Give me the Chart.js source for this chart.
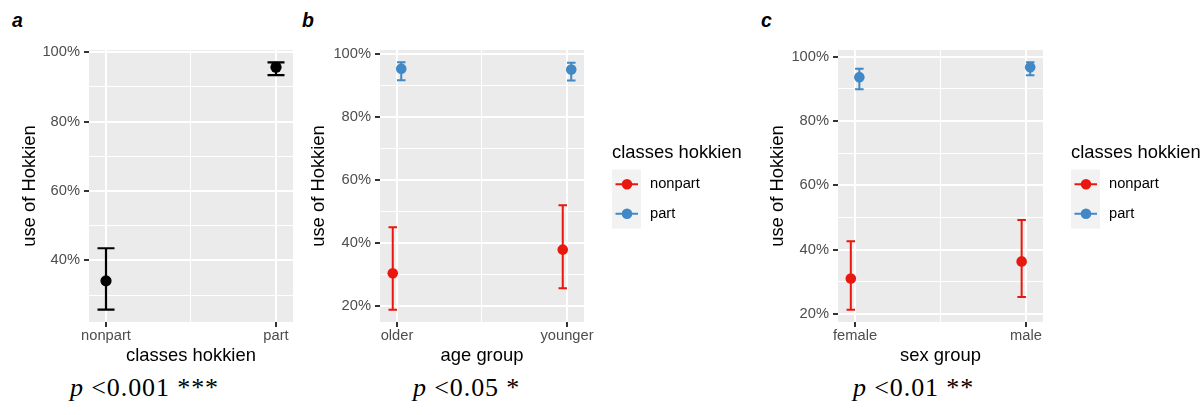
<!DOCTYPE html>
<html>
<head>
<meta charset="utf-8">
<script src="https://cdn.jsdelivr.net/npm/chart.js@4/dist/chart.umd.min.js"></script>
<style>
  html, body { margin: 0; padding: 0; background: #fff; }
  body { width: 1204px; height: 415px; position: relative; overflow: hidden; }
  canvas { position: absolute; top: 0; }
  .tag { position: absolute; top: 10px; font: italic bold 19.5px "Liberation Sans", Arial, sans-serif; line-height: 20px; color: #000; }
  .pval { position: absolute; top: 375px; font: 26px "Liberation Serif", "Times New Roman", serif; letter-spacing: 0.9px; line-height: 26px; color: #000; white-space: pre; }
  .pval i { font-style: italic; }
</style>
</head>
<body>
<div class="tag" style="left:12px">a</div>
<div class="tag" style="left:302px">b</div>
<div class="tag" style="left:761px">c</div>

<canvas id="chartClass" width="300" height="372" style="left:0px"></canvas>
<canvas id="chartAge" width="460" height="372" style="left:300px"></canvas>
<canvas id="chartSex" width="444" height="372" style="left:760px"></canvas>

<div class="pval" style="left:70px"><i>p</i> &lt;0.001 ***</div>
<div class="pval" style="left:413px"><i>p</i> &lt;0.05 *</div>
<div class="pval" style="left:853px"><i>p</i> &lt;0.01 **</div>

<script>
// ---- data (percent use of Hokkien, mean with interval bounds) ----
const classCats  = ['nonpart', 'part'];
const classMean  = [34.1, 95.7];
const classLower = [25.8, 93.4];
const classUpper = [43.5, 97.1];

const ageCats         = ['older', 'younger'];
const ageNonpartMean  = [30.3, 37.8];
const ageNonpartLower = [18.7, 25.5];
const ageNonpartUpper = [44.9, 51.9];
const agePartMean     = [95.4, 95.1];
const agePartLower    = [91.7, 91.6];
const agePartUpper    = [97.4, 97.3];

const sexCats         = ['female', 'male'];
const sexNonpartMean  = [31.0, 36.3];
const sexNonpartLower = [21.3, 25.2];
const sexNonpartUpper = [42.6, 49.2];
const sexPartMean     = [93.6, 96.7];
const sexPartLower    = [89.8, 94.2];
const sexPartUpper    = [96.2, 98.2];

const groupLabels = ['nonpart', 'part'];
const yMajorTicks = [20, 40, 60, 80, 100];
const yMinorTicks = [30, 50, 70, 90];

// ---- styling ----
const FAMILY = '"Liberation Sans", Arial, sans-serif';
const RED = '#E8180F';
const BLUE = '#4189C6';
const PANEL_BG = '#EBEBEB';
const KEY_BG = '#F2F2F2';
const TICK_TEXT = '#4D4D4D';

Chart.defaults.font.family = FAMILY;

// grey panel behind the grid
const panelBackground = {
  id: 'panelBackground',
  beforeDraw(chart) {
    const a = chart.chartArea;
    const ctx = chart.ctx;
    ctx.save();
    ctx.fillStyle = PANEL_BG;
    ctx.fillRect(a.left, a.top, a.right - a.left, a.bottom - a.top);
    ctx.restore();
  }
};

// vertical interval bars with caps, placed through the chart scales
const errorBars = {
  id: 'errorBars',
  beforeDatasetsDraw(chart, args, opts) {
    const xs = chart.scales.x, ys = chart.scales.y;
    const ctx = chart.ctx;
    const half = Math.abs(xs.getPixelForValue(opts.capWidth / 2) - xs.getPixelForValue(0));
    ctx.save();
    chart.data.datasets.forEach(ds => {
      ctx.strokeStyle = ds.backgroundColor;
      ctx.lineWidth = opts.lineWidth;
      ds.data.forEach((pt, i) => {
        const px = xs.getPixelForValue(pt.x);
        const lo = ys.getPixelForValue(ds.lower[i]);
        const hi = ys.getPixelForValue(ds.upper[i]);
        ctx.beginPath();
        ctx.moveTo(px, lo); ctx.lineTo(px, hi);
        ctx.moveTo(px - half, lo); ctx.lineTo(px + half, lo);
        ctx.moveTo(px - half, hi); ctx.lineTo(px + half, hi);
        ctx.stroke();
      });
    });
    ctx.restore();
  }
};

// legend drawn to the right of the panel
const keyLegend = {
  id: 'keyLegend',
  afterDraw(chart, args, o) {
    if (!o.display) return;
    const ctx = chart.ctx;
    ctx.save();
    ctx.textBaseline = 'middle';
    ctx.textAlign = 'left';
    ctx.fillStyle = '#000';
    ctx.font = '18.4px ' + FAMILY;
    ctx.fillText(o.title, o.x, o.titleY);
    chart.data.datasets.forEach((ds, i) => {
      const top = o.keyTop + i * o.keyH;
      const cy = top + o.keyH / 2;
      ctx.fillStyle = KEY_BG;
      ctx.fillRect(o.x, top, o.keyW, o.keyH);
      ctx.strokeStyle = ds.backgroundColor;
      ctx.lineWidth = 2;
      ctx.beginPath();
      ctx.moveTo(o.x + 3.5, cy); ctx.lineTo(o.x + o.keyW - 3, cy);
      ctx.stroke();
      ctx.fillStyle = ds.backgroundColor;
      ctx.beginPath();
      ctx.arc(o.x + o.keyW / 2 + 0.5, cy, ds.pointRadius, 0, Math.PI * 2);
      ctx.fill();
      ctx.fillStyle = '#000';
      ctx.font = '14.7px ' + FAMILY;
      ctx.fillText(ds.label, o.x + o.keyW + 9, cy);
    });
    ctx.restore();
  }
};

function expandedRange(series) {
  let lo = Infinity, hi = -Infinity;
  series.forEach(s => {
    lo = Math.min(lo, ...s.lower);
    hi = Math.max(hi, ...s.upper);
  });
  const pad = (hi - lo) * 0.05;
  return [lo - pad, hi + pad];
}

function buildPanel(id, cats, series, xTitle, layout) {
  const [yMin, yMax] = expandedRange(series);
  const isMajorY = v => yMajorTicks.includes(v);
  const yTickValues = [...yMajorTicks, ...yMinorTicks].sort((a, b) => a - b)
    .filter(v => v >= yMin && v <= yMax);
  const xTickValues = cats.flatMap((c, i) => i ? [i - 0.5, i] : [0]);
  const isMajorX = v => Number.isInteger(v);

  const datasets = series.map(s => ({
    label: s.label,
    data: s.mean.map((m, i) => ({ x: i + s.dodge, y: m })),
    lower: s.lower,
    upper: s.upper,
    backgroundColor: s.color,
    borderWidth: 0,
    pointRadius: layout.pointRadius,
    pointHoverRadius: layout.pointRadius
  }));

  return new Chart(document.getElementById(id), {
    type: 'scatter',
    data: { datasets },
    plugins: [panelBackground, errorBars, keyLegend],
    options: {
      responsive: false,
      animation: false,
      devicePixelRatio: 1,
      events: [],
      layout: { padding: { top: 50, bottom: 0, left: 0, right: layout.padRight } },
      plugins: {
        legend: { display: false },
        tooltip: { enabled: false },
        errorBars: { capWidth: layout.capWidth, lineWidth: layout.barWidth },
        keyLegend: layout.legend
      },
      scales: {
        x: {
          type: 'linear',
          min: -0.1,
          max: cats.length - 1 + 0.1,
          afterBuildTicks: ax => { ax.ticks = xTickValues.map(v => ({ value: v })); },
          afterFit: ax => { ax.height = 50; },
          border: { display: false },
          grid: {
            color: '#FFFFFF',
            lineWidth: c => isMajorX(c.tick.value) ? 2 : 1,
            tickColor: c => isMajorX(c.tick.value) ? '#333333' : 'rgba(0,0,0,0)',
            tickWidth: 2,
            tickLength: 5
          },
          ticks: {
            autoSkip: false,
            maxRotation: 0,
            padding: 0,
            color: TICK_TEXT,
            font: { size: 14.7 },
            callback: v => isMajorX(v) ? cats[v] : ''
          },
          title: {
            display: true,
            text: xTitle,
            color: '#000',
            font: { size: 18.4, lineHeight: 1 },
            padding: { top: 0, bottom: 7 }
          }
        },
        y: {
          type: 'linear',
          min: yMin,
          max: yMax,
          afterBuildTicks: ax => { ax.ticks = yTickValues.map(v => ({ value: v })); },
          afterFit: ax => { ax.width = layout.yAxisWidth; },
          border: { display: false },
          grid: {
            color: '#FFFFFF',
            lineWidth: c => isMajorY(c.tick.value) ? 2 : 1,
            tickColor: c => isMajorY(c.tick.value) ? '#333333' : 'rgba(0,0,0,0)',
            tickWidth: 2,
            tickLength: 5
          },
          ticks: {
            autoSkip: false,
            padding: 4,
            color: TICK_TEXT,
            font: { size: 14.7 },
            callback: v => isMajorY(v) ? v + '%' : ''
          },
          title: {
            display: true,
            text: 'use of Hokkien',
            color: '#000',
            font: { size: 18.4, lineHeight: 1 },
            padding: { top: layout.yTitlePad, bottom: 0 }
          }
        }
      }
    }
  });
}

// a: participation in classes
buildPanel('chartClass', classCats, [
  { label: 'all', color: '#000000', dodge: 0, mean: classMean, lower: classLower, upper: classUpper }
], 'classes hokkien', {
  yAxisWidth: 89, padRight: 7, yTitlePad: 20.8, capWidth: 0.1, barWidth: 2.2, pointRadius: 5.6,
  legend: { display: false }
});

const legendOpts = x => ({ display: true, title: 'classes hokkien', x, titleY: 153, keyTop: 169.5, keyW: 29, keyH: 29.5 });

// b: age group
buildPanel('chartAge', ageCats, [
  { label: groupLabels[0], color: RED,  dodge: -0.025, mean: ageNonpartMean, lower: ageNonpartLower, upper: ageNonpartUpper },
  { label: groupLabels[1], color: BLUE, dodge:  0.025, mean: agePartMean,    lower: agePartLower,    upper: agePartUpper }
], 'age group', {
  yAxisWidth: 80, padRight: 176, yTitlePad: 10, capWidth: 0.05, barWidth: 2, pointRadius: 5.3,
  legend: legendOpts(312)
});

// c: sex group
buildPanel('chartSex', sexCats, [
  { label: groupLabels[0], color: RED,  dodge: -0.025, mean: sexNonpartMean, lower: sexNonpartLower, upper: sexNonpartUpper },
  { label: groupLabels[1], color: BLUE, dodge:  0.025, mean: sexPartMean,    lower: sexPartLower,    upper: sexPartUpper }
], 'sex group', {
  yAxisWidth: 78, padRight: 161, yTitlePad: 9.1, capWidth: 0.05, barWidth: 2, pointRadius: 5.3,
  legend: legendOpts(311)
});
</script>
</body>
</html>
